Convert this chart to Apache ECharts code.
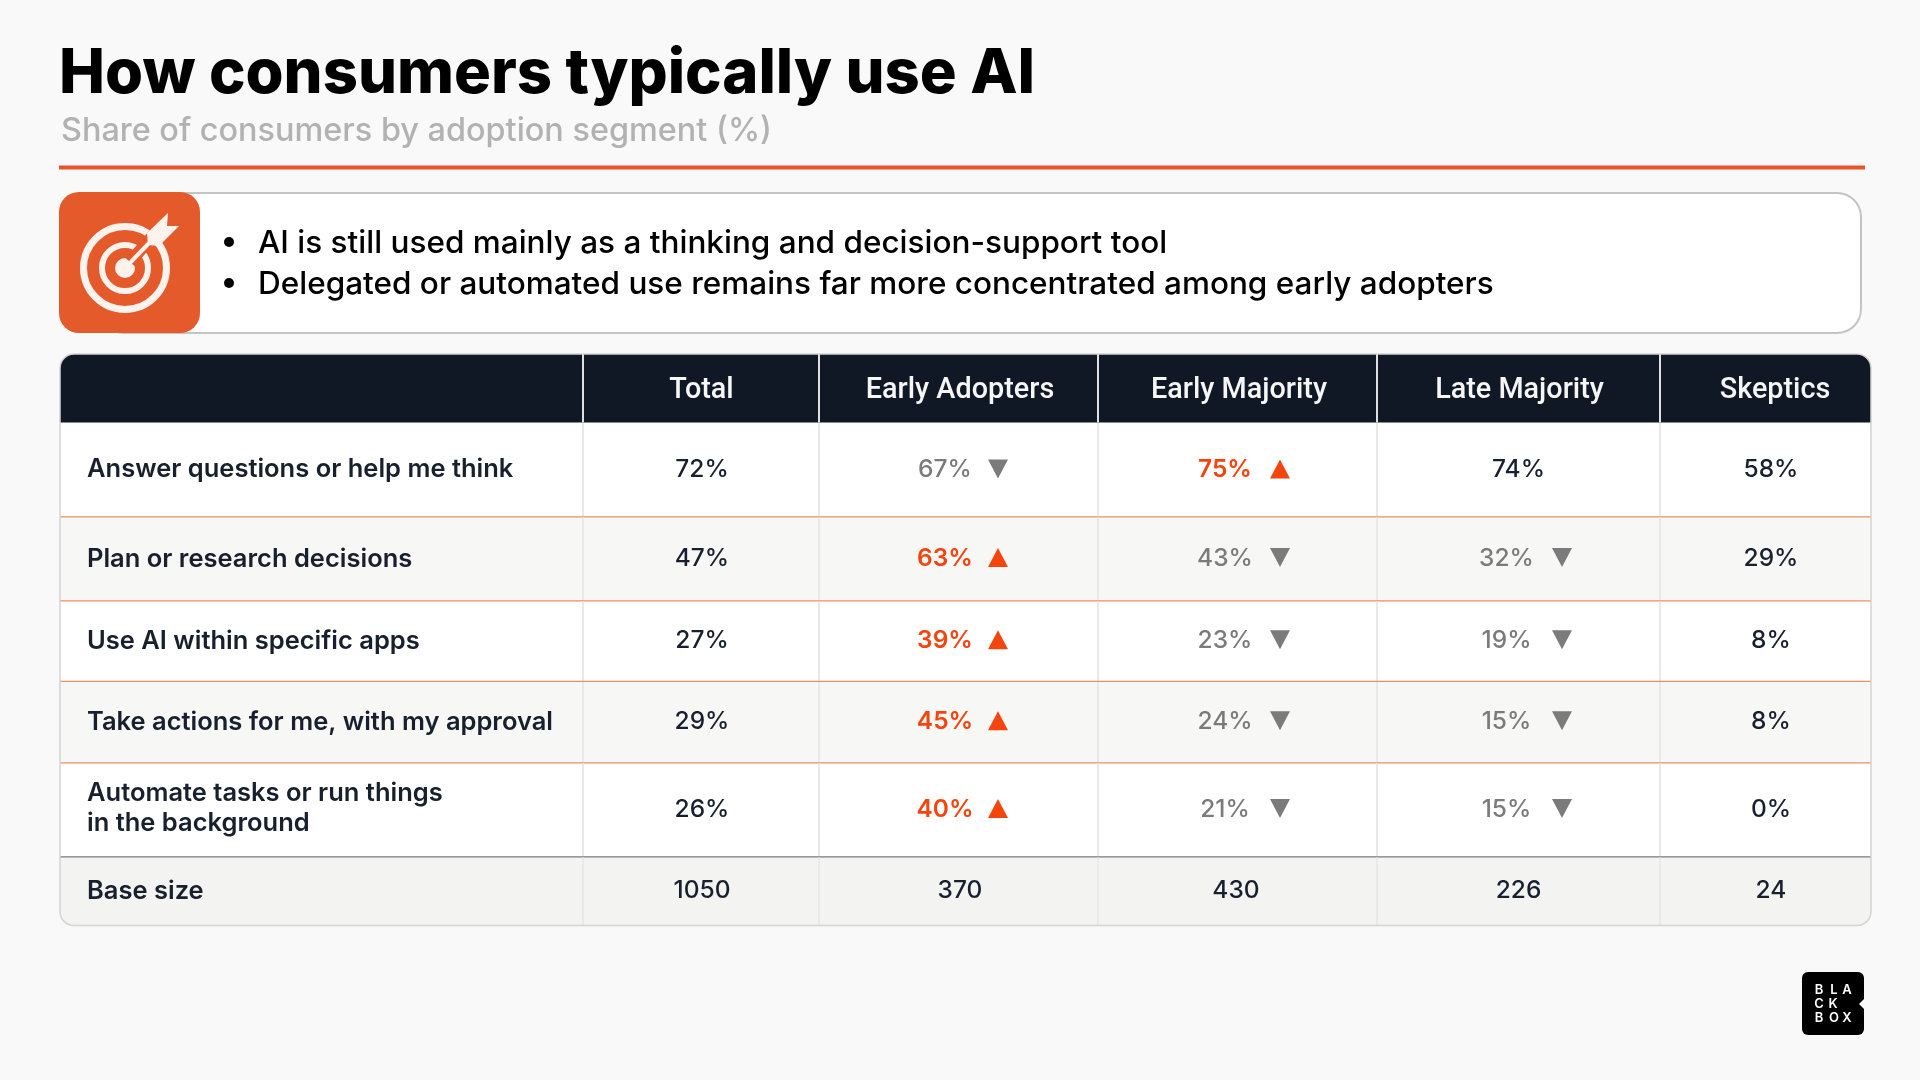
<!DOCTYPE html>
<html><head><meta charset="utf-8">
<style>html,body{margin:0;padding:0;background:#f9f9f9}#c{width:1920px;height:1080px}</style>
<script src="https://cdn.jsdelivr.net/npm/echarts@6/dist/echarts.min.js"></script>
</head><body><div id="c"></div>
<script>
const columns = ['', 'Total', 'Early Adopters', 'Early Majority', 'Late Majority', 'Skeptics'];
const rowLabels = ['Answer questions or help me think', 'Plan or research decisions', 'Use AI within specific apps', 'Take actions for me, with my approval', 'Automate tasks or run things\nin the background', 'Base size'];
const total = ['72%', '47%', '27%', '29%', '26%', '1050'];
const earlyAdopters = ['67%', '63%', '39%', '45%', '40%', '370'];
const earlyMajority = ['75%', '43%', '23%', '24%', '21%', '430'];
const lateMajority = ['74%', '32%', '19%', '15%', '15%', '226'];
const skeptics = ['58%', '29%', '8%', '8%', '0%', '24'];
const earlyAdoptersDir = ['down', 'up', 'up', 'up', 'up', ''];
const earlyMajorityDir = ['up', 'down', 'down', 'down', 'down', ''];
const lateMajorityDir = ['', 'down', 'down', 'down', 'down', ''];
const titleText = 'How consumers typically use AI';
const subtitleText = 'Share of consumers by adoption segment (%)';
const bullets = ['AI is still used mainly as a thinking and decision-support tool', 'Delegated or automated use remains far more concentrated among early adopters'];

const valueCols = [total, earlyAdopters, earlyMajority, lateMajority, skeptics];
const dirCols = [[], earlyAdoptersDir, earlyMajorityDir, lateMajorityDir, []];

// layout of the table, in page pixels
const colEdges = [60, 583, 819, 1098, 1377, 1660, 1871];
const rowEdges = [354, 422.5, 517.5, 601.5, 682, 763.5, 857.5, 925.5];
const valueCx = [702, 960, 1236, 1518.5, 1771];
const headerCx = [701.5, 960, 1239, 1519.5, 1775];
const arrowTextDx = [0, -15, -11, -12, 0];
const arrowDx = [0, 38, 44, 43.5, 0];
const ORANGE = '#F4450F', GRAY = '#7b7b7b', INK = '#18202e', NAVY = '#101825';
const FF = 'Inter, "Noto Sans", sans-serif';

const cells = [];
rowLabels.forEach((label, r) => {
  cells.push(['bg', 0, r]);
  valueCols.forEach((col, c) => cells.push(['value', c, r, col[r], dirCols[c][r] || '']));
});
columns.forEach((h, c) => cells.push(['head', c, h]));

function renderCell(params, api) {
  const d = cells[params.dataIndex];
  const P = (x, y) => api.coord([x, y]);
  const kids = [];
  if (d[0] === 'head') {
    const c = d[1];
    const [x0, y0] = P(colEdges[c], rowEdges[0]);
    const [x1, y1] = P(colEdges[c + 1], rowEdges[1]);
    kids.push({type: 'rect', shape: {x: x0, y: y0, width: x1 - x0, height: y1 - y0,
      r: c === 0 ? [14, 0, 0, 0] : c === columns.length - 1 ? [0, 14, 0, 0] : 0}, style: {fill: NAVY}});
    if (c > 0) {
      kids.push({type: 'rect', shape: {x: x0 - 1, y: y0, width: 2, height: y1 - y0}, style: {fill: '#dfe0e2'}});
      const [tx, ty] = P(headerCx[c - 1], (rowEdges[0] + rowEdges[1]) / 2 + 3);
      kids.push({type: 'text', style: {text: d[2], x: tx, y: ty, align: 'center', verticalAlign: 'middle', fill: '#f6f6f6',
        fontFamily: 'Roboto', fontWeight: 500, fontSize: 28.8}});
    }
  } else if (d[0] === 'bg') {
    const r = d[2];
    const [x0, y0] = P(colEdges[0], rowEdges[r + 1]);
    const [x1, y1] = P(colEdges[colEdges.length - 1], rowEdges[r + 2]);
    const fill = r === 5 ? '#f3f3f2' : r % 2 === 1 ? '#f7f7f6' : '#ffffff';
    kids.push({type: 'rect', shape: {x: x0, y: y0, width: x1 - x0, height: y1 - y0, r: r === 5 ? [0, 0, 14, 14] : 0},
      style: {fill}});
    colEdges.slice(1, -1).forEach(e => {
      const [lx] = P(e, 0);
      kids.push({type: 'rect', shape: {x: lx - 1, y: y0, width: 2, height: y1 - y0}, style: {fill: '#e9e9e8'}});
    });
    if (r < 5) {
      kids.push({type: 'rect', shape: {x: x0, y: y1 - 1.2, width: x1 - x0, height: r === 4 ? 2.6 : 2},
        style: {fill: r === 4 ? '#77787a' : '#F68A62'}});
    }
    const [tx, ty] = P(87, (rowEdges[r + 1] + rowEdges[r + 2]) / 2 - (r === 4 ? 2 : 0.5));
    kids.push({type: 'text', style: {text: rowLabels[r], x: tx, y: ty,
      align: 'left', verticalAlign: 'middle', fill: INK, fontFamily: FF, fontWeight: 600, fontSize: 25.5, lineHeight: 29.5}});
  } else {
    const [, c, r, txt, dir] = d;
    const rowY = (rowEdges[r + 1] + rowEdges[r + 2]) / 2 - (r === 0 ? 0 : 1);
    const [cx, cy] = P(valueCx[c] + (dir ? arrowTextDx[c] : 0), rowY);
    const fill = dir === 'up' ? ORANGE : dir === 'down' ? GRAY : INK;
    kids.push({type: 'text', style: {text: txt, x: cx, y: cy, align: 'center', verticalAlign: 'middle', fill,
      fontFamily: FF, fontWeight: dir === 'up' ? 600 : 500, fontSize: 24.5}});
    if (dir) {
      const [ax, ay] = P(valueCx[c] + arrowDx[c], rowY - 1);
      const h = 9.5, w = 10;
      const pts = dir === 'up' ? [[ax - w, ay + h], [ax + w, ay + h], [ax, ay - h]] : [[ax - w, ay - h], [ax + w, ay - h], [ax, ay + h]];
      kids.push({type: 'polygon', shape: {points: pts}, style: {fill: dir === 'up' ? ORANGE : GRAY}});
    }
  }
  return {type: 'group', children: kids};
}

const targetColor = '#FDF2EC', iconColor = '#E55A2B';
const chrome = [
  {type: 'rect', shape: {x: 59, y: 165.5, width: 1806, height: 4}, style: {fill: '#E8552B'}},
  {type: 'rect', shape: {x: 100, y: 193, width: 1761, height: 140, r: 24}, style: {fill: '#fff', stroke: '#c4c4c4', lineWidth: 2}},
  {type: 'rect', shape: {x: 59, y: 192, width: 141, height: 141, r: 20}, style: {fill: iconColor}},
  {type: 'circle', shape: {cx: 125, cy: 268, r: 41.5}, style: {fill: 'none', stroke: targetColor, lineWidth: 7}},
  {type: 'circle', shape: {cx: 125, cy: 268, r: 23}, style: {fill: 'none', stroke: targetColor, lineWidth: 6}},
  {type: 'circle', shape: {cx: 125, cy: 268, r: 10}, style: {fill: targetColor}},
  {type: 'line', shape: {x1: 130, y1: 262, x2: 158, y2: 230}, style: {stroke: iconColor, lineWidth: 12}},
  {type: 'line', shape: {x1: 126, y1: 267, x2: 152, y2: 240}, style: {stroke: targetColor, lineWidth: 4}},
  {type: 'polygon', shape: {points: [[147, 233], [168, 213], [167, 226], [179, 226], [159, 246], [148, 245]]}, style: {fill: targetColor}},
  {type: 'circle', shape: {cx: 229, cy: 242, r: 5}, style: {fill: '#000'}},
  {type: 'circle', shape: {cx: 229, cy: 283, r: 5}, style: {fill: '#000'}},
  {type: 'text', style: {text: bullets[0], x: 258, y: 244, verticalAlign: 'middle', fill: '#000', fontFamily: FF, fontWeight: 500, fontSize: 31.5}},
  {type: 'text', style: {text: bullets[1], x: 258, y: 285, verticalAlign: 'middle', fill: '#000', fontFamily: FF, fontWeight: 500, fontSize: 31.5}},
  {type: 'rect', shape: {x: 60, y: 354, width: 1811, height: 571.5, r: 14}, style: {fill: 'none', stroke: '#d6d4d1', lineWidth: 1.5}, z: 20},
  {type: 'rect', shape: {x: 1802, y: 972, width: 62, height: 63, r: 6}, style: {fill: '#000'}},
  {type: 'polygon', shape: {points: [[1865, 998], [1859, 1004], [1865, 1010]]}, style: {fill: '#f9f9f9'}}
];
[['B', 1819, 990], ['L', 1834, 990], ['A', 1847, 990], ['C', 1819, 1004], ['K', 1833, 1004], ['B', 1819, 1018], ['O', 1834, 1018], ['X', 1847, 1018]].forEach(l =>
  chrome.push({type: 'text', style: {text: l[0], x: l[1], y: l[2], align: 'center', verticalAlign: 'middle', fill: '#fff', fontFamily: FF, fontWeight: 600, fontSize: 13}}));

const chart = echarts.init(document.getElementById('c'));
chart.setOption({
  animation: false,
  backgroundColor: '#f9f9f9',
  title: [
    {text: titleText, left: 54, top: 39, textStyle: {fontFamily: FF, fontWeight: 800, fontSize: 61.5, color: '#000'}},
    {text: subtitleText, left: 56, top: 110, textStyle: {fontFamily: FF, fontWeight: 500, fontSize: 32.4, color: '#b2b2b2'}}
  ],
  grid: {left: 0, right: 0, top: 0, bottom: 0},
  xAxis: {type: 'value', min: 0, max: 1920, show: false},
  yAxis: {type: 'value', min: 0, max: 1080, inverse: true, show: false},
  graphic: {elements: chrome.map(e => Object.assign({silent: true}, e))},
  series: [{
    type: 'custom', name: 'Table', coordinateSystem: 'cartesian2d', clip: false,
    data: cells.map((d, i) => [i, i]),
    encode: {x: 0, y: 1},
    renderItem: renderCell,
    silent: true
  }]
});
</script></body></html>
